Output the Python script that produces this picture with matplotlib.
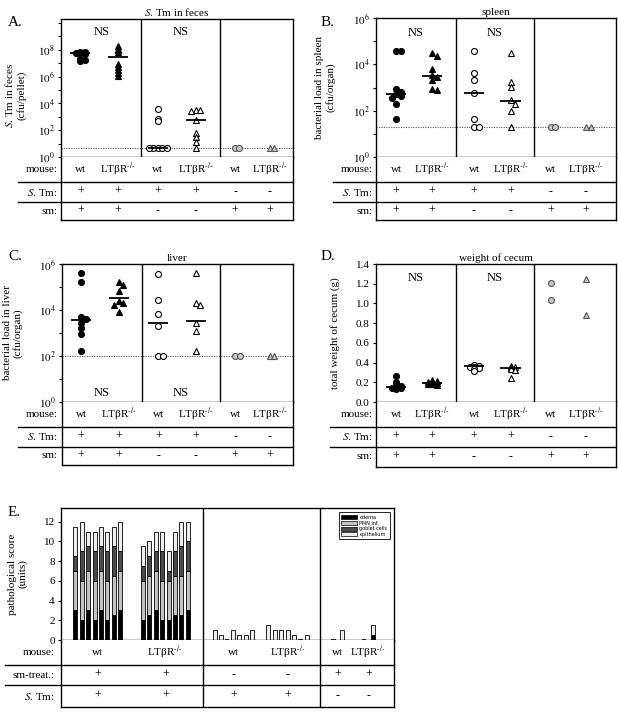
import numpy as np
import matplotlib
matplotlib.use("Agg")
import matplotlib.pyplot as plt
from matplotlib.patches import Patch

plt.rcParams['font.family'] = ['Liberation Serif', 'DejaVu Serif']
plt.rcParams['mathtext.fontset'] = 'stix'
plt.rcParams['font.size'] = 8
plt.rcParams['axes.linewidth'] = 1.0

W, H = 618, 713

# ---------------- data ----------------
KO = "LTβR$^{\\text{-/-}}$"
mouse_row = ["wt", KO, "wt", KO, "wt", KO]
stm_row = ["+", "+", "+", "+", "-", "-"]
sm_row = ["+", "+", "-", "-", "+", "+"]

# A. S. Tm in feces (cfu/pellet)
feces_wt_sm = [7e7, 6.5e7, 6e7, 5.5e7, 5e7, 2e7, 1.8e7, 1.5e7]
feces_ko_sm = [1.8e8, 1.2e8, 9e7, 7e7, 9e6, 5e6, 3e6, 2e6, 1.2e6]
feces_wt_nosm = [4e3, 7e2, 5e2, 4.5, 4.5, 4.5, 4.5, 4.5]
feces_ko_nosm = [3e3, 3e3, 2.5e3, 6e2, 6e1, 3e1, 1.4e1, 4.5]
feces_wt_nostm = [4.5, 4.5]
feces_ko_nostm = [4.5, 4.5]
feces_median = [6e7, 2.8e7, 4.5, 6e2]
feces_limit = 4.5

# B. spleen (cfu/organ)
spleen_wt_sm = [3.8e4, 3.8e4, 850, 660, 525, 430, 370, 200, 43]
spleen_ko_sm = [3.2e4, 2.2e4, 6.3e3, 3.5e3, 2.8e3, 2.2e3, 900, 800]
spleen_wt_nosm = [3.8e4, 4.4e3, 2.1e3, 560, 43, 20, 20]
spleen_ko_nosm = [3e4, 1.8e3, 1.1e3, 280, 200, 100, 20]
spleen_wt_nostm = [20, 20]
spleen_ko_nostm = [20, 20]
spleen_median = [520, 3e3, 560, 260]
spleen_limit = 20

# C. liver (cfu/organ)
liver_wt_sm = [4.2e5, 1.6e5, 5.1e3, 4.1e3, 2.8e3, 1.6e3, 870, 170]
liver_ko_sm = [1.6e5, 1.2e5, 6.8e4, 2.5e4, 2e4, 1.7e4, 8e3]
liver_wt_nosm = [3.5e5, 2.7e4, 6.5e3, 2.1e3, 100, 100]
liver_ko_nosm = [3.9e5, 2.1e4, 1.7e4, 2.6e3, 1.2e3, 170]
liver_wt_nostm = [100, 100]
liver_ko_nostm = [100, 100]
liver_median = [3.5e3, 3.4e4, 2.6e3, 3.3e3]
liver_limit = 100

# D. weight of cecum (g)
cecum_wt_sm = [0.26, 0.2, 0.17, 0.16, 0.15, 0.14, 0.14, 0.13]
cecum_ko_sm = [0.22, 0.21, 0.2, 0.2, 0.19, 0.18, 0.18, 0.17]
cecum_wt_nosm = [0.38, 0.37, 0.36, 0.36, 0.35, 0.33, 0.31]
cecum_ko_nosm = [0.37, 0.36, 0.35, 0.33, 0.32, 0.24]
cecum_wt_nostm = [1.21, 1.03]
cecum_ko_nostm = [1.25, 0.88]
cecum_median = [0.155, 0.19, 0.365, 0.34]

# E. pathological score (units): edema, PMN inf., goblet cells, epithelium
path_wt_sm = dict(edema=[3, 2, 3, 2, 3, 2, 2.5, 3], pmn=[4, 4, 4, 4, 4, 4, 4, 4],
                  goblet=[1.5, 3, 2.5, 3, 2.5, 3, 3, 2], epi=[3, 3, 1.5, 2, 2, 2, 2, 3])
path_ko_sm = dict(edema=[2, 2.5, 3, 2, 2, 2.5, 2.5, 3], pmn=[4, 4, 4, 4, 4, 4, 4, 4],
                  goblet=[1.5, 2, 2, 3, 1, 2.5, 3, 3], epi=[2, 1.5, 2, 2, 2, 2, 2.5, 2])
path_wt_nosm = dict(edema=[0] * 7, pmn=[0] * 7, goblet=[0] * 7, epi=[1, 0.5, 0, 1, 0.5, 0.5, 1])
path_ko_nosm = dict(edema=[0] * 7, pmn=[0] * 7, goblet=[0] * 7, epi=[1.5, 1, 1, 1, 0.5, 0, 0.5])
path_wt_nostm = dict(edema=[0, 0], pmn=[0, 0], goblet=[0, 0], epi=[0, 1])
path_ko_nostm = dict(edema=[0, 0.5], pmn=[0, 0], goblet=[0, 0], epi=[0, 1.0])
path_labels = ["edema", "PMN inf.", "goblet cells", "epithelium"]
path_colors = ["#000000", "#c4c4c4", "#4a4a4a", "#eeeeee"]

# ---------------- helpers ----------------
fig = plt.figure(figsize=(W / 100, H / 100), dpi=100)


def box(x0, y0, x1, y1):
    return [x0 / W, 1 - y1 / H, (x1 - x0) / W, (y1 - y0) / H]


styles = [
    dict(marker='o', mfc='k', mec='k'),
    dict(marker='^', mfc='k', mec='k'),
    dict(marker='o', mfc='w', mec='k'),
    dict(marker='^', mfc='w', mec='k'),
    dict(marker='o', mfc='#c8c8c8', mec='#555555'),
    dict(marker='^', mfc='#c8c8c8', mec='#555555'),
]


def spread(vals, tol, step):
    # push overlapping points sideways
    placed = []
    offs = []
    for v in vals:
        for c in [0, 1, -1, 2, -2, 3, -3]:
            if all(abs(v - pv) > tol or po != c for pv, po in placed):
                break
        placed.append((v, c))
        offs.append(c * step)
    return np.array(offs)


def table(x0, x1, yb, r1, r2, r3, xlim, xpos, rows, row_names, lab_x, line_x0, dividers=None):
    tab = fig.add_axes(box(x0, yb, x1, r3))
    tab.set_xlim(xlim)
    tab.set_ylim(r3 - yb, 0)
    tab.set_xticks([])
    tab.set_yticks([])
    tab.spines['top'].set_visible(False)
    tr = tab.get_yaxis_transform()
    ax_l = (line_x0 - x0) / (x1 - x0)
    for y in [r1 - yb, r2 - yb]:
        tab.plot([ax_l, 1], [y, y], color='k', lw=1.0, transform=tr, clip_on=False)
    centers = [(r1 - yb) / 2, (r1 + r2) / 2 - yb, (r2 + r3) / 2 - yb]
    lx = (lab_x - x0) / (x1 - x0)
    for cy, name, vals in zip(centers, row_names, rows):
        tab.text(lx, cy, name, transform=tr, ha='right', va='center', fontsize=8)
        for x, v in zip(xpos, vals):
            tab.text(x, cy, v, ha='center', va='center', fontsize=8.5 if v in "+-" else 8)
    if dividers is not None:
        for d in dividers:
            tab.axvline(d, color='k', lw=1.0)
    return tab


def dot_panel(rect, groups, medians, xpos, dividers, log, tol, ylim, limit=None):
    x0, y0, x1, y1 = rect
    ax = fig.add_axes(box(x0, y0, x1, y1))
    if log:
        ax.set_yscale('log')
    ax.set_xlim(0, 6)
    ax.set_ylim(ylim)
    step = 6.0 / (x1 - x0) * 4.5
    for i, vals in enumerate(groups):
        v = np.array(vals, dtype=float)
        key = np.log10(v) if log else v
        offs = spread(key, tol, step)
        ax.plot(xpos[i] + offs, v, ls='none', ms=4.3, mew=0.8, zorder=3, **styles[i])
    for i, m in enumerate(medians):
        ax.hlines(m, xpos[i] - 0.26, xpos[i] + 0.26, color='k', lw=1.3, zorder=4)
    for d in dividers:
        ax.axvline(d, color='k', lw=1.0)
    if limit is not None:
        ax.axhline(limit, color='#555555', lw=0.8, ls=(0, (1, 1.2)), zorder=1)
    ax.set_xticks([])
    ax.tick_params(axis='y', direction='out', length=2.5, width=0.8, pad=2, labelsize=8)
    return ax


def log_ticks(ax, top, label_top):
    ks = list(range(0, top + 1))
    ax.set_yticks([10.0 ** k for k in ks])
    ax.set_yticklabels([f"$10^{{{k}}}$" if k % 2 == 0 and k <= label_top else "" for k in ks])
    ax.yaxis.set_minor_locator(matplotlib.ticker.NullLocator())


left_x = [0.5, 1.47, 2.5, 3.48, 4.5, 5.4]
left_div = [2.08, 4.1]
right_x = [0.5, 1.4, 2.45, 3.37, 4.37, 5.25]
right_div = [2.0, 3.95]
row_names = ["mouse:", "$\\it{S}$. Tm:", "sm:"]

# ---------------- A ----------------
axA = dot_panel((61, 19, 293, 157),
                [feces_wt_sm, feces_ko_sm, feces_wt_nosm, feces_ko_nosm, feces_wt_nostm, feces_ko_nostm],
                feces_median, left_x, left_div, True, 0.1, (1, 10 ** 10.3), feces_limit)
log_ticks(axA, 10, 8)
axA.set_title("$\\it{S}$. Tm in feces", fontsize=8, pad=2)
axA.set_ylabel("$\\it{S}$. Tm in feces\n(cfu/pellet)", fontsize=8, linespacing=1.1)
axA.yaxis.set_label_coords(-0.15, 0.45)
for c in [(0 + left_div[0]) / 2, (left_div[0] + left_div[1]) / 2]:
    axA.text(c, 10 ** 9.3, "NS", ha='center', va='center', fontsize=9)
table(61, 293, 157, 182, 202, 220, (0, 6), left_x, [mouse_row, stm_row, sm_row], row_names, 58, 18)
fig.text(8 / W, 1 - 23 / H, "A.", fontsize=11, va='center')

# ---------------- B ----------------
axB = dot_panel((376, 18, 616, 157),
                [spleen_wt_sm, spleen_ko_sm, spleen_wt_nosm, spleen_ko_nosm, spleen_wt_nostm, spleen_ko_nostm],
                spleen_median, right_x, right_div, True, 0.18, (1, 1e6), spleen_limit)
log_ticks(axB, 6, 6)
axB.set_title("spleen", fontsize=8, pad=2)
axB.set_ylabel("bacterial load in spleen\n(cfu/organ)", fontsize=8, linespacing=1.1)
axB.yaxis.set_label_coords(-0.17, 0.5)
for c in [(0 + right_div[0]) / 2, (right_div[0] + right_div[1]) / 2]:
    axB.text(c, 10 ** 5.37, "NS", ha='center', va='center', fontsize=9)
table(376, 616, 157, 182, 202, 220, (0, 6), right_x, [mouse_row, stm_row, sm_row], row_names, 373, 333)
fig.text(321 / W, 1 - 22 / H, "B.", fontsize=11, va='center')

# ---------------- C ----------------
axC = dot_panel((62, 264, 293, 402),
                [liver_wt_sm, liver_ko_sm, liver_wt_nosm, liver_ko_nosm, liver_wt_nostm, liver_ko_nostm],
                liver_median, left_x, left_div, True, 0.18, (1, 1e6), liver_limit)
log_ticks(axC, 6, 6)
axC.set_title("liver", fontsize=8, pad=2)
axC.set_ylabel("bacterial load in liver\n(cfu/organ)", fontsize=8, linespacing=1.1)
axC.yaxis.set_label_coords(-0.17, 0.5)
for c in [(0 + left_div[0]) / 2, (left_div[0] + left_div[1]) / 2]:
    axC.text(c, 10 ** 0.4, "NS", ha='center', va='center', fontsize=9)
table(62, 293, 402, 427, 447, 465, (0, 6), left_x, [mouse_row, stm_row, sm_row], row_names, 58, 18)
fig.text(8 / W, 1 - 257 / H, "C.", fontsize=11, va='center')

# ---------------- D ----------------
axD = dot_panel((376, 264, 616, 402),
                [cecum_wt_sm, cecum_ko_sm, cecum_wt_nosm, cecum_ko_nosm, cecum_wt_nostm, cecum_ko_nostm],
                cecum_median, right_x, right_div, False, 0.015, (0, 1.4))
axD.set_yticks(np.arange(0, 1.41, 0.2))
axD.set_yticklabels([f"{v:.1f}" for v in np.arange(0, 1.41, 0.2)])
axD.set_title("weight of cecum", fontsize=8, pad=2)
axD.set_ylabel("total weight of cecum (g)", fontsize=8)
axD.yaxis.set_label_coords(-0.15, 0.5)
for c in [(0 + right_div[0]) / 2, (right_div[0] + right_div[1]) / 2]:
    axD.text(c, 1.26, "NS", ha='center', va='center', fontsize=9)
table(376, 616, 402, 427, 447, 467, (0, 6), right_x, [mouse_row, stm_row, sm_row], row_names, 373, 330)
fig.text(321 / W, 1 - 257 / H, "D.", fontsize=11, va='center')

# ---------------- E ----------------
axE = fig.add_axes(box(61, 508, 394, 640))
axE.set_xlim(0, 52)
axE.set_ylim(0, 13.4)
e_groups = [path_wt_sm, path_ko_sm, path_wt_nosm, path_ko_nosm, path_wt_nostm, path_ko_nostm]
e_centers = [5.75, 16.3, 26.9, 35.4, 43.2, 48.0]
e_spacing = [1, 1, 0.97, 1.0, 1.3, 1.3]
for g, c, sp in zip(e_groups, e_centers, e_spacing):
    n = len(g['edema'])
    xs = c + (np.arange(n) - (n - 1) / 2) * sp
    bottom = np.zeros(n)
    for key, col in zip(['edema', 'pmn', 'goblet', 'epi'], path_colors):
        h = np.array(g[key], dtype=float)
        axE.bar(xs, h, width=0.62, bottom=bottom, color=col, edgecolor='k', linewidth=0.6)
        bottom = bottom + h
    # zero-score animals are drawn as a flat line on the baseline
    flat = bottom == 0
    if flat.any():
        axE.hlines(np.zeros(flat.sum()), xs[flat] - 0.35, xs[flat] + 0.35, color='k', lw=1.2,
                   clip_on=False)
e_div = [22.2, 40.5]
for d in e_div:
    axE.axvline(d, color='k', lw=1.0)
axE.set_xticks([])
axE.set_yticks(range(0, 13, 2))
axE.tick_params(axis='y', direction='out', length=2.5, width=0.8, pad=2, labelsize=8)
axE.set_ylabel("pathological score\n(units)", fontsize=8, linespacing=1.1)
axE.yaxis.set_label_coords(-0.1, 0.5)
handles = [Patch(facecolor=c, edgecolor='k', linewidth=0.5, label=l) for c, l in zip(path_colors, path_labels)]
axE.legend(handles=handles, loc='upper right', bbox_to_anchor=(0.995, 0.985),
           prop=dict(family='DejaVu Sans', size=3.5), frameon=True, fancybox=False,
           edgecolor='k', framealpha=1, handlelength=3.2, handleheight=0.9,
           labelspacing=0.15, borderpad=0.5, handletextpad=0.5).get_frame().set_linewidth(0.6)
table(61, 394, 640, 665, 685, 707, (0, 52), e_centers,
      [mouse_row, ["+", "+", "-", "-", "+", "+"], ["+", "+", "+", "+", "-", "-"]],
      ["mouse:", "sm-treat.:", "$\\it{S}$. Tm:"], 55, 5, dividers=e_div)
fig.text(8 / W, 1 - 513 / H, "E.", fontsize=11, va='center')

fig.savefig("out.png", dpi=100)
